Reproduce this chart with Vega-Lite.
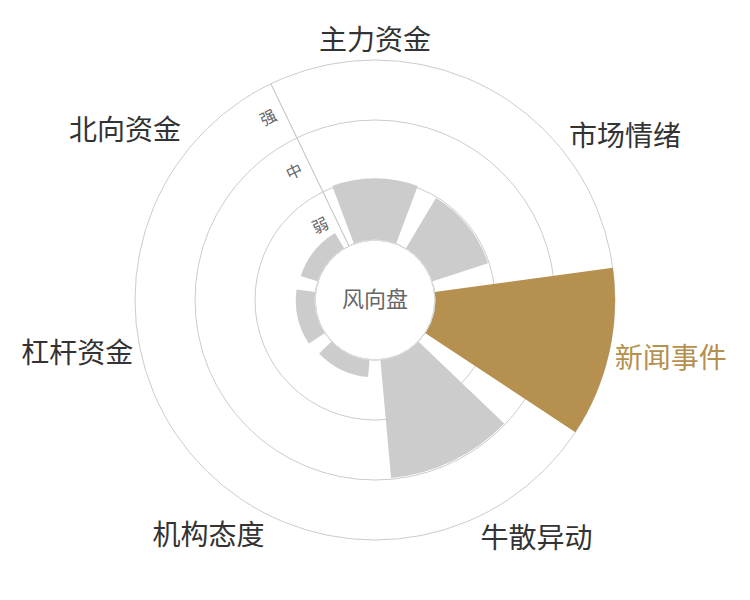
{
  "$schema": "https://vega.github.io/schema/vega-lite/v6.json",
  "width": 750,
  "height": 600,
  "padding": 0,
  "background": "#ffffff",
  "config": {"view": {"stroke": null}},
  "datasets": {
    "cats": [
      {"name": "主力资金", "value": 1.03},
      {"name": "市场情绪", "value": 0.98},
      {"name": "新闻事件", "value": 3.0},
      {"name": "牛散异动", "value": 1.98},
      {"name": "机构态度", "value": 0.29},
      {"name": "杠杆资金", "value": 0.32},
      {"name": "北向资金", "value": 0.3}
    ],
    "levels": [
      {"label": "弱", "v": 1},
      {"label": "中", "v": 2},
      {"label": "强", "v": 3}
    ],
    "center": [{"text": "风向盘"}]
  },
  "layer": [
    {
      "data": {"name": "levels"},
      "mark": {"type": "arc", "theta": 0, "theta2": 6.2832, "fillOpacity": 0, "stroke": "#cccccc", "strokeWidth": 1},
      "encoding": {
        "radius": {"field": "v", "type": "quantitative", "stack": null, "scale": {"type": "linear", "domain": [0, 3], "range": [60, 240]}}
      }
    },
    {
      "data": {"name": "center"},
      "mark": {"type": "arc", "fillOpacity": 0, "stroke": "#cccccc", "strokeWidth": 1},
      "encoding": {
        "theta": {"datum": 0, "type": "quantitative", "stack": null, "scale": {"type": "linear", "domain": [0, 7], "range": [-0.448799, 5.834386]}},
        "theta2": {"datum": 0},
        "radius": {"datum": 3, "type": "quantitative", "stack": null, "scale": {"type": "linear", "domain": [0, 3], "range": [60, 240]}},
        "radius2": {"datum": 0}
      }
    },
    {
      "data": {"name": "cats"},
      "transform": [
        {"window": [{"op": "row_number", "as": "t1"}]},
        {"window": [{"op": "count", "as": "t0"}], "frame": [null, -1]}
      ],
      "mark": {"type": "arc", "thetaOffset": 0.09, "theta2Offset": -0.09},
      "encoding": {
        "theta": {"field": "t0", "type": "quantitative", "stack": null, "scale": {"type": "linear", "domain": [0, 7], "range": [-0.448799, 5.834386]}},
        "theta2": {"field": "t1"},
        "radius": {"field": "value", "type": "quantitative", "stack": null, "scale": {"type": "linear", "domain": [0, 3], "range": [60, 240]}},
        "radius2": {"datum": 0},
        "color": {"condition": {"test": "datum.name === '新闻事件'", "value": "#b5904f"}, "value": "#cccccc"}
      }
    },
    {
      "data": {"name": "center"},
      "mark": {"type": "arc", "theta": 0, "theta2": 6.2832, "fillOpacity": 0, "stroke": "#dddddd", "strokeWidth": 1},
      "encoding": {
        "radius": {"datum": 0, "type": "quantitative", "stack": null, "scale": {"type": "linear", "domain": [0, 3], "range": [60, 240]}}
      }
    },
    {
      "data": {"name": "center"},
      "mark": {"type": "text", "font": "Noto Sans CJK SC", "fontSize": 22, "color": "#666666", "align": "center", "baseline": "middle"},
      "encoding": {"text": {"field": "text"}}
    },
    {
      "data": {"name": "levels"},
      "mark": {"type": "text", "font": "Noto Sans CJK SC", "fontSize": 16, "color": "#666666", "align": "center", "baseline": "middle", "angle": -25.71, "dx": -17, "radiusOffset": -30},
      "encoding": {
        "theta": {"datum": 0, "type": "quantitative", "scale": {"type": "linear", "domain": [0, 7], "range": [-0.448799, 5.834386]}},
        "radius": {"field": "v", "type": "quantitative", "stack": null, "scale": {"type": "linear", "domain": [0, 3], "range": [60, 240]}},
        "text": {"field": "label"}
      }
    },
    {
      "data": {"name": "cats"},
      "transform": [
        {"window": [{"op": "count", "as": "t0"}], "frame": [null, -1]},
        {"filter": "datum.name === '主力资金'"}
      ],
      "mark": {"type": "text", "font": "Noto Sans CJK SC", "fontSize": 28, "color": "#333333", "align": "center", "baseline": "bottom", "radiusOffset": 8, "thetaOffset": 0.448799, "dy": 4},
      "encoding": {
        "theta": {"field": "t0", "type": "quantitative", "scale": {"type": "linear", "domain": [0, 7], "range": [-0.448799, 5.834386]}},
        "radius": {"datum": 3, "type": "quantitative", "scale": {"type": "linear", "domain": [0, 3], "range": [60, 240]}},
        "text": {"field": "name"}
      }
    },
    {
      "data": {"name": "cats"},
      "transform": [
        {"window": [{"op": "count", "as": "t0"}], "frame": [null, -1]},
        {"filter": "datum.name === '市场情绪'"}
      ],
      "mark": {"type": "text", "font": "Noto Sans CJK SC", "fontSize": 28, "color": "#333333", "align": "left", "baseline": "bottom", "radiusOffset": 8, "thetaOffset": 0.448799, "dy": 7},
      "encoding": {
        "theta": {"field": "t0", "type": "quantitative", "scale": {"type": "linear", "domain": [0, 7], "range": [-0.448799, 5.834386]}},
        "radius": {"datum": 3, "type": "quantitative", "scale": {"type": "linear", "domain": [0, 3], "range": [60, 240]}},
        "text": {"field": "name"}
      }
    },
    {
      "data": {"name": "cats"},
      "transform": [
        {"window": [{"op": "count", "as": "t0"}], "frame": [null, -1]},
        {"filter": "datum.name === '新闻事件'"}
      ],
      "mark": {"type": "text", "font": "Noto Sans CJK SC", "fontSize": 28, "color": "#b5904f", "align": "left", "baseline": "middle", "radiusOffset": 8, "thetaOffset": 0.448799, "dx": -2, "dy": 5},
      "encoding": {
        "theta": {"field": "t0", "type": "quantitative", "scale": {"type": "linear", "domain": [0, 7], "range": [-0.448799, 5.834386]}},
        "radius": {"datum": 3, "type": "quantitative", "scale": {"type": "linear", "domain": [0, 3], "range": [60, 240]}},
        "text": {"field": "name"}
      }
    },
    {
      "data": {"name": "cats"},
      "transform": [
        {"window": [{"op": "count", "as": "t0"}], "frame": [null, -1]},
        {"filter": "datum.name === '牛散异动'"}
      ],
      "mark": {"type": "text", "font": "Noto Sans CJK SC", "fontSize": 28, "color": "#333333", "align": "left", "baseline": "top", "radiusOffset": 8, "thetaOffset": 0.448799, "dx": -2, "dy": 3},
      "encoding": {
        "theta": {"field": "t0", "type": "quantitative", "scale": {"type": "linear", "domain": [0, 7], "range": [-0.448799, 5.834386]}},
        "radius": {"datum": 3, "type": "quantitative", "scale": {"type": "linear", "domain": [0, 3], "range": [60, 240]}},
        "text": {"field": "name"}
      }
    },
    {
      "data": {"name": "cats"},
      "transform": [
        {"window": [{"op": "count", "as": "t0"}], "frame": [null, -1]},
        {"filter": "datum.name === '机构态度'"}
      ],
      "mark": {"type": "text", "font": "Noto Sans CJK SC", "fontSize": 28, "color": "#333333", "align": "right", "baseline": "top", "radiusOffset": 8, "thetaOffset": 0.448799, "dx": -3},
      "encoding": {
        "theta": {"field": "t0", "type": "quantitative", "scale": {"type": "linear", "domain": [0, 7], "range": [-0.448799, 5.834386]}},
        "radius": {"datum": 3, "type": "quantitative", "scale": {"type": "linear", "domain": [0, 3], "range": [60, 240]}},
        "text": {"field": "name"}
      }
    },
    {
      "data": {"name": "cats"},
      "transform": [
        {"window": [{"op": "count", "as": "t0"}], "frame": [null, -1]},
        {"filter": "datum.name === '杠杆资金'"}
      ],
      "mark": {"type": "text", "font": "Noto Sans CJK SC", "fontSize": 28, "color": "#333333", "align": "right", "baseline": "middle", "radiusOffset": 8, "thetaOffset": 0.448799},
      "encoding": {
        "theta": {"field": "t0", "type": "quantitative", "scale": {"type": "linear", "domain": [0, 7], "range": [-0.448799, 5.834386]}},
        "radius": {"datum": 3, "type": "quantitative", "scale": {"type": "linear", "domain": [0, 3], "range": [60, 240]}},
        "text": {"field": "name"}
      }
    },
    {
      "data": {"name": "cats"},
      "transform": [
        {"window": [{"op": "count", "as": "t0"}], "frame": [null, -1]},
        {"filter": "datum.name === '北向资金'"}
      ],
      "mark": {"type": "text", "font": "Noto Sans CJK SC", "fontSize": 28, "color": "#333333", "align": "right", "baseline": "bottom", "radiusOffset": 8, "thetaOffset": 0.448799, "dy": 1},
      "encoding": {
        "theta": {"field": "t0", "type": "quantitative", "scale": {"type": "linear", "domain": [0, 7], "range": [-0.448799, 5.834386]}},
        "radius": {"datum": 3, "type": "quantitative", "scale": {"type": "linear", "domain": [0, 3], "range": [60, 240]}},
        "text": {"field": "name"}
      }
    }
  ]
}
